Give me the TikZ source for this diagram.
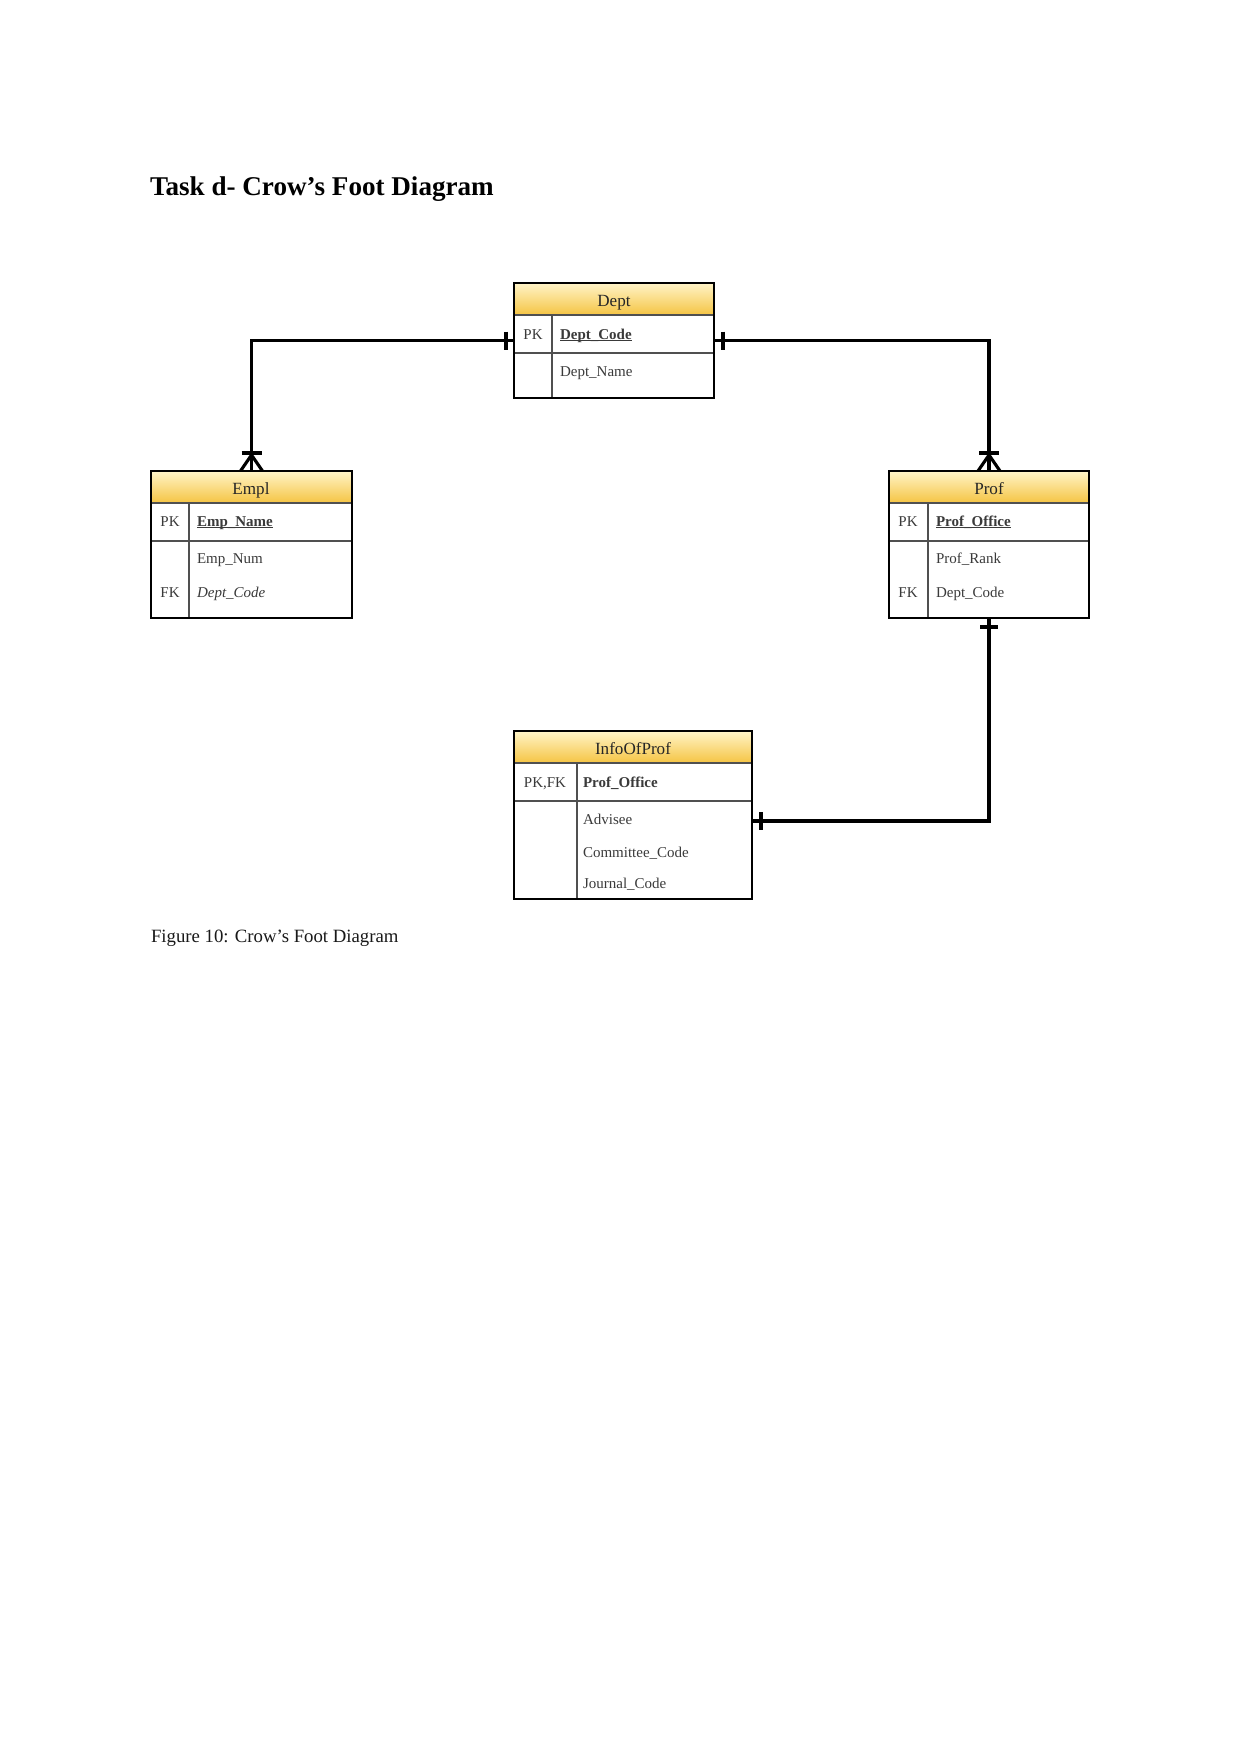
\documentclass[tikz,border=0pt]{standalone}
\usepackage{fontspec}
\setmainfont{Liberation Serif}
\usetikzlibrary{fit,calc}
\definecolor{hdrtop}{HTML}{FFF4C8}
\definecolor{hdrbot}{HTML}{F5C443}
\definecolor{tbltext}{HTML}{3A3A3A}
\definecolor{gridline}{HTML}{505050}
\newcommand\keyul[1]{\setbox0\hbox{#1}\rlap{\rule[-0.9pt]{\wd0}{0.4pt}}\box0}
\tikzset{
  every node/.style={inner sep=0pt, outer sep=0pt},
  tbltitle/.style={anchor=base, font=\fontsize{8.2}{9}\selectfont, text=black!85},
  keycell/.style={anchor=base, font=\fontsize{7.2}{8}\selectfont, text=tbltext},
  attr/.style={anchor=base west, font=\fontsize{7.2}{8}\selectfont, text=tbltext},
  hdrfill/.style={top color=hdrtop, bottom color=hdrbot},
  gridln/.style={draw=gridline, line width=0.5pt},
  border/.style={draw=black, line width=1.05pt},
  rel/.style={draw=black, line width=1.6pt},
  relmark/.style={draw=black, line width=1.5pt},
}
\begin{document}
\begin{tikzpicture}[x=0.4797pt, y=-0.4797pt]
\useasboundingbox[fill=white] (0,0) rectangle (1241,1754);

% Title and caption
\node[anchor=base west, font=\fontsize{13}{15}\selectfont\bfseries] (title) at (150,196) {Task d- Crow’s Foot Diagram};
\node[anchor=base west, font=\fontsize{9}{11}\selectfont, text=black!90] (caption) at (151,942) {Figure 10: Crow’s Foot Diagram};

% ---------- Dept ----------
\coordinate (dept-nw) at (514,283);
\coordinate (dept-se) at (714,398);
\node[fit=(dept-nw)(dept-se)] (dept) {};
\shade[hdrfill] (514,283) rectangle (714,315);
\draw[gridln] (514,315) -- (714,315) (514,353) -- (714,353) (552,315) -- (552,398);
\draw[border] (dept.north west) rectangle (dept.south east);
\node[tbltitle] (dept-t) at (614,306) {Dept};
\node[keycell] (dept-k1) at (533,339) {PK};
\node[attr] (dept-a1) at (560,339) {\keyul{\textbf{Dept\_Code}}};
\node[attr] (dept-a2) at (560,376) {Dept\_Name};

% ---------- Empl ----------
\coordinate (empl-nw) at (151,471);
\coordinate (empl-se) at (352,618);
\node[fit=(empl-nw)(empl-se)] (empl) {};
\shade[hdrfill] (151,471) rectangle (352,503);
\draw[gridln] (151,503) -- (352,503) (151,541) -- (352,541) (189,503) -- (189,618);
\draw[border] (empl.north west) rectangle (empl.south east);
\node[tbltitle] (empl-t) at (251,494) {Empl};
\node[keycell] (empl-k1) at (170,526) {PK};
\node[attr] (empl-a1) at (197,526) {\keyul{\textbf{Emp\_Name}}};
\node[attr] (empl-a2) at (197,563) {Emp\_Num};
\node[keycell] (empl-k2) at (170,597) {FK};
\node[attr] (empl-a3) at (197,597) {\textit{Dept\_Code}};

% ---------- Prof ----------
\coordinate (prof-nw) at (889,471);
\coordinate (prof-se) at (1089,618);
\node[fit=(prof-nw)(prof-se)] (prof) {};
\shade[hdrfill] (889,471) rectangle (1089,503);
\draw[gridln] (889,503) -- (1089,503) (889,541) -- (1089,541) (928,503) -- (928,618);
\draw[border] (prof.north west) rectangle (prof.south east);
\node[tbltitle] (prof-t) at (989,494) {Prof};
\node[keycell] (prof-k1) at (908,526) {PK};
\node[attr] (prof-a1) at (936,526) {\keyul{\textbf{Prof\_Office}}};
\node[attr] (prof-a2) at (936,563) {Prof\_Rank};
\node[keycell] (prof-k2) at (908,597) {FK};
\node[attr] (prof-a3) at (936,597) {Dept\_Code};

% ---------- InfoOfProf ----------
\coordinate (info-nw) at (514,731);
\coordinate (info-se) at (752,899);
\node[fit=(info-nw)(info-se)] (info) {};
\shade[hdrfill] (514,731) rectangle (752,763);
\draw[gridln] (514,763) -- (752,763) (514,801) -- (752,801) (577,763) -- (577,899);
\draw[border] (info.north west) rectangle (info.south east);
\node[tbltitle] (info-t) at (633,754) {InfoOfProf};
\node[keycell] (info-k1) at (545,787) {PK,FK};
\node[attr] (info-a1) at (583,787) {\textbf{Prof\_Office}};
\node[attr] (info-a2) at (583,824) {Advisee};
\node[attr] (info-a3) at (583,857) {Committee\_Code};
\node[attr] (info-a4) at (583,888) {Journal\_Code};

% ---------- Relationships ----------
% Dept -- Empl
\draw[rel] (empl.north) |- (dept.west);
\draw[relmark] ($(dept.west)+(-8,-9)$) -- ($(dept.west)+(-8,9)$);
\draw[relmark] ($(empl.north)+(-10,-18)$) -- ($(empl.north)+(10,-18)$);
\draw[relmark] ($(empl.north)+(-11,0)$) -- ($(empl.north)+(0,-16)$) -- ($(empl.north)+(11,0)$);

% Dept -- Prof
\draw[rel] (dept.east) -| (prof.north);
\draw[relmark] ($(dept.east)+(9,-9)$) -- ($(dept.east)+(9,9)$);
\draw[relmark] ($(prof.north)+(-10,-18)$) -- ($(prof.north)+(10,-18)$);
\draw[relmark] ($(prof.north)+(-11,0)$) -- ($(prof.north)+(0,-16)$) -- ($(prof.north)+(11,0)$);

% Prof -- InfoOfProf
\coordinate (info-conn) at ($(info.east)+(0,6)$);
\draw[rel] (prof.south) |- (info-conn);
\draw[relmark] ($(prof.south)+(-9,9)$) -- ($(prof.south)+(9,9)$);
\draw[relmark] ($(info-conn)+(9,-9)$) -- ($(info-conn)+(9,9)$);
\end{tikzpicture}
\end{document}
